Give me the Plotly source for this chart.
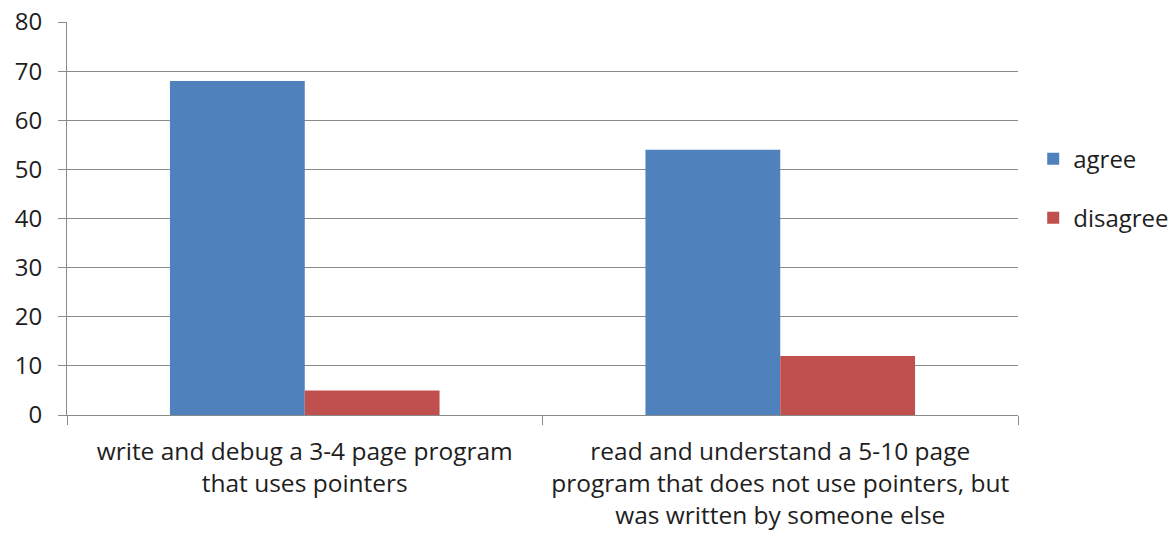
import plotly.graph_objects as go

categories = [
    "write and debug a 3-4 page program<br>that uses pointers",
    "read and understand a 5-10 page<br>program that does not use pointers, but<br>was written by someone else",
]
agree = [68, 54]
disagree = [5, 12]
y_ticks = [0, 10, 20, 30, 40, 50, 60, 70, 80]

FONT = "Open Sans"
GRID = "#8a8a8a"
TXT = "#1e1e1e"

fig = go.Figure()
fig.add_trace(go.Bar(x=categories, y=agree, name="agree", showlegend=True,
                     marker=dict(color="#4F81BD", line=dict(width=0)),
                     legend="legend"))
fig.add_trace(go.Bar(x=categories, y=disagree, name="disagree", showlegend=True,
                     marker=dict(color="#C0504D", line=dict(width=0)),
                     legend="legend2"))

leg_common = dict(xref="paper", yref="paper", xanchor="left", yanchor="middle",
                  font=dict(family=FONT, size=24, color=TXT),
                  bgcolor="rgba(0,0,0,0)", borderwidth=0)

fig.update_layout(
    width=1174, height=541,
    margin=dict(l=67, r=156, t=22, b=126, autoexpand=False),
    paper_bgcolor="white", plot_bgcolor="white",
    barmode="group", bargap=0.433, bargroupgap=0,
    showlegend=True,
    font=dict(family=FONT, size=24, color=TXT),
    legend=dict(x=1.016, y=0.651, **leg_common),
    legend2=dict(x=1.016, y=0.501, **leg_common),
    xaxis=dict(
        tickson="boundaries", ticks="outside", ticklen=9, tickcolor=GRID,
        showline=True, linecolor=GRID, linewidth=1, tickangle=0,
        showgrid=False, tickfont=dict(family=FONT, size=24.5, color=TXT),
        ticklabelstandoff=15,
    ),
    yaxis=dict(
        range=[0, 80], tickvals=y_ticks, ticks="outside", ticklen=8,
        tickcolor=GRID, showline=True, linecolor=GRID, linewidth=1,
        showgrid=True, gridcolor=GRID, gridwidth=1, zeroline=False,
        tickfont=dict(family=FONT, size=24, color=TXT),
        ticklabelstandoff=11,
    ),
)

fig.write_html("out.html", config={"displayModeBar": False},
               post_script="document.body.style.margin='0';")
